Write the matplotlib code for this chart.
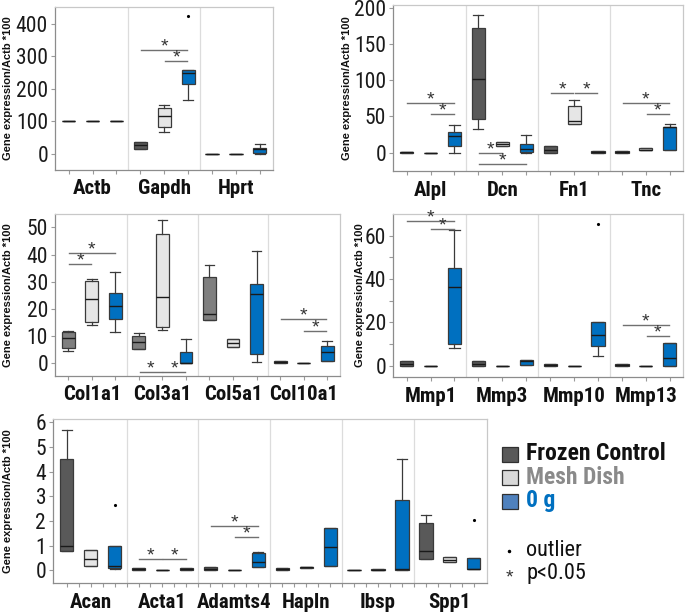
import matplotlib
matplotlib.use("Agg")
import numpy as np
import matplotlib.pyplot as plt
from matplotlib.patches import Rectangle
from matplotlib.lines import Line2D

plt.rcParams['font.family'] = ['Roboto Condensed', 'Liberation Sans', 'DejaVu Sans']

# ---------------- data (order per gene: Frozen Control, Mesh Dish, 0 g) ----------------
p1_genes = ["Actb", "Gapdh", "Hprt"]
p1_med = [100, 100, 100, 27, 117, 249, 0, 0, 16]
p1_q1 = [100, 100, 100, 16, 81, 213, 0, 0, 1]
p1_q3 = [100, 100, 100, 37, 142, 257, 0, 0, 18]
p1_lo = [100, 100, 100, 16, 66, 165, 0, 0, 0]
p1_hi = [100, 100, 100, 37, 150, 257, 0, 0, 30]
p1_fliers = {5: [422]}
p1_sig = [(3, 5, 320), (4, 5, 285)]

p2_genes = ["Alpl", "Dcn", "Fn1", "Tnc"]
p2_med = [0.5, 0, 23, 102, 11.5, 5, 4, 44, 1, 1, 4, 35]
p2_q1 = [0, 0, 9, 46, 9, 1, 0, 39, 0, 0, 3, 3]
p2_q3 = [1, 0, 28, 172, 14, 12.5, 9, 65, 2.5, 2, 6, 36]
p2_lo = [0, 0, 0, 32, 9, 0, 0, 39, 0, 0, 3, 3]
p2_hi = [1, 0, 38, 190, 14, 24, 9, 73, 2.5, 2, 6, 39]
p2_fliers = {}
p2_sig = [(0, 2, 68), (1, 2, 53), (3, 4, 0), (3, 5, -16), (6, 7, 82), (7, 8, 82),
          (9, 11, 68), (10, 11, 53)]

p3_genes = ["Col1a1", "Col3a1", "Col5a1", "Col10a1"]
p3_med = [9.4, 23.5, 21.1, 7.7, 24.3, 0.3, 18, 7.6, 25.6, 0.5, 0, 4.3]
p3_q1 = [5.8, 15.1, 16.2, 5.1, 13.2, 0, 15.9, 6.1, 3.3, 0, 0, 0.9]
p3_q3 = [11.4, 30.4, 25.7, 10, 47.5, 4.3, 31.9, 9, 29, 1, 0, 6.4]
p3_lo = [4.7, 14, 11.5, 5.1, 12.3, 0, 15.9, 6.1, 0.6, 0, 0, 0.9]
p3_hi = [12, 31.1, 33.6, 11, 52.7, 8.8, 36, 9, 41.4, 1, 0, 8.2]
p3_fliers = {}
p3_sig = [(0, 2, 40.7), (0, 1, 36.4), (3, 4, -3.1), (4, 5, -3.1), (9, 11, 16.2), (10, 11, 12)]

p4_genes = ["Mmp1", "Mmp3", "Mmp10", "Mmp13"]
p4_med = [1, 0, 36.5, 1, 0, 2, 0.5, 0, 14.2, 0.5, 0, 3.4]
p4_q1 = [0, 0, 9.8, 0, 0, 0.3, 0, 0, 9.2, 0, 0, 0]
p4_q3 = [2, 0, 44.9, 2, 0, 2.8, 1, 0, 20.3, 1, 0, 10.6]
p4_lo = [0, 0, 8.3, 0, 0, 0.3, 0, 0, 4.6, 0, 0, 0]
p4_hi = [2, 0, 62.6, 2, 0, 2.8, 1, 0, 20.3, 1, 0, 10.6]
p4_fliers = {8: [65.4]}
p4_sig = [(0, 2, 66.8), (1, 2, 62.9), (9, 11, 18.8), (10, 11, 13.7)]

p5_genes = ["Acan", "Acta1", "Adamts4", "Hapln", "Ibsp", "Spp1"]
p5_med = [0.99, 0.46, 0.18, 0.05, 0, 0.04, 0.06, 0, 0.35, 0.06, 0.12, 0.95, 0, 0.015, 0.03, 0.78, 0.43, 0.05]
p5_q1 = [0.79, 0.18, 0.10, 0.02, 0, 0, 0, 0, 0.14, 0.02, 0.08, 0.16, 0, 0, 0, 0.44, 0.34, 0.03]
p5_q3 = [4.53, 0.81, 0.98, 0.08, 0, 0.07, 0.12, 0, 0.68, 0.10, 0.15, 1.72, 0, 0.03, 2.86, 1.90, 0.52, 0.48]
p5_lo = [0.79, 0.18, 0.04, 0.02, 0, 0, 0, 0, 0.14, 0.02, 0.08, 0.16, 0, 0, 0, 0.44, 0.34, 0.03]
p5_hi = [5.70, 0.81, 0.98, 0.08, 0, 0.07, 0.12, 0, 0.75, 0.10, 0.15, 1.72, 0, 0.03, 4.53, 2.24, 0.52, 0.48]
p5_fliers = {2: [2.63], 17: [2.04]}
p5_sig = [(3, 4, 0.47), (4, 5, 0.47), (6, 8, 1.79), (7, 8, 1.36)]

legend_labels = ["Frozen Control", "Mesh Dish", "0 g"]
ylabel = "Gene expression/Actb *100"

# ---------------- style ----------------
FROZEN = "#595959"
FROZEN_MID = "#7f7f7f"
MESH = "#e6e6e6"
ZERO = "#0070c0"
EDGE = "#3a3a3a"

W, H = 685, 614
fig = plt.figure(figsize=(W / 100, H / 100), dpi=100)


def axes_px(left, top, right, bottom):
    return fig.add_axes([left / W, 1 - bottom / H, (right - left) / W, (bottom - top) / H])


def draw_panel(ax, genes, med, q1, q3, lo, hi, fliers, sigs, yticks, ylim,
               minor=None, frozen_color=FROZEN, half_ticks=False):
    n = len(genes) * 3
    pos = np.arange(n)
    stats = []
    for i in range(n):
        stats.append(dict(med=med[i], q1=q1[i], q3=q3[i], whislo=lo[i], whishi=hi[i],
                          fliers=fliers.get(i, [])))
    bp = ax.bxp(stats, positions=pos, widths=0.55, patch_artist=True, showfliers=True,
                manage_ticks=False, capwidths=0.42,
                boxprops=dict(edgecolor=EDGE, linewidth=0.9),
                medianprops=dict(color="#1a1a1a", linewidth=1.0),
                whiskerprops=dict(color=EDGE, linewidth=0.9),
                capprops=dict(color=EDGE, linewidth=0.9),
                flierprops=dict(marker='.', markersize=2.5, markerfacecolor='black',
                                markeredgecolor='black'))
    cols = [frozen_color, MESH, ZERO]
    for i, b in enumerate(bp['boxes']):
        b.set_facecolor(cols[i % 3])
    for g in range(1, len(genes)):
        ax.axvline(3 * g - 0.5, color="#dcdcdc", lw=0.9, zorder=0)
    for (i, j, y) in sigs:
        x0, x1 = i + 0.03, j - 0.03
        ax.plot([x0, x1], [y, y], color="#707070", lw=1.0, clip_on=False, zorder=3)
        ax.annotate("*", xy=((x0 + x1) / 2, y), xytext=(0, -4), textcoords="offset points",
                    ha="center", va="bottom", fontsize=14, color="#333333",
                    family=["Liberation Sans", "DejaVu Sans"])
    ax.set_xlim(-0.57, n - 1 + 0.55)
    ax.set_ylim(*ylim)
    ax.set_yticks(yticks)
    ax.set_yticklabels([str(t) for t in yticks])
    if minor is not None:
        ax.set_yticks(minor, minor=True)
    if half_ticks:
        ax.set_xticks(np.arange(0, n - 0.99, 0.5))
    else:
        ax.set_xticks(pos)
    ax.tick_params(axis='x', length=3, color="#9a9a9a", labelbottom=False, width=0.8)
    ax.tick_params(axis='y', which='both', length=3, color="#9a9a9a", width=0.8,
                   labelsize=15.5, pad=2, labelcolor="#1a1a1a")
    for s in ['left', 'bottom']:
        ax.spines[s].set_color("#8c8c8c")
        ax.spines[s].set_linewidth(0.9)
    for s in ['top', 'right']:
        ax.spines[s].set_color("#c8c8c8")
        ax.spines[s].set_linewidth(0.9)
    for g, name in enumerate(genes):
        ax.annotate(name, xy=(3 * g + 1, 0), xycoords=('data', 'axes fraction'),
                    xytext=(0, -19 * 0.72), textcoords='offset points',
                    ha='center', va='center', fontsize=15, fontweight='bold', color="#111111")


def ylab(xpx, top, bottom):
    fig.text(xpx / W, 1 - (top + bottom) / 2 / H, ylabel, rotation=90, ha='center', va='center',
             fontsize=8, fontweight='bold', color="#111111",
             family=["Liberation Sans", "DejaVu Sans"])


ax1 = axes_px(55, 7, 273, 170)
draw_panel(ax1, p1_genes, p1_med, p1_q1, p1_q3, p1_lo, p1_hi, p1_fliers, p1_sig,
           [0, 100, 200, 300, 400], (-50, 451))
ylab(8, 7, 170)

ax2 = axes_px(393, 5, 683, 171)
draw_panel(ax2, p2_genes, p2_med, p2_q1, p2_q3, p2_lo, p2_hi, p2_fliers, p2_sig,
           [0, 50, 100, 150, 200], (-25.5, 204))
ylab(347, 5, 171)

ax3 = axes_px(55, 214, 340, 376)
draw_panel(ax3, p3_genes, p3_med, p3_q1, p3_q3, p3_lo, p3_hi, p3_fliers, p3_sig,
           [0, 10, 20, 30, 40, 50], (-4.65, 54.9), frozen_color=FROZEN_MID)
ylab(8, 214, 376)

ax4 = axes_px(393, 214, 683, 377)
draw_panel(ax4, p4_genes, p4_med, p4_q1, p4_q3, p4_lo, p4_hi, p4_fliers, p4_sig,
           [0, 20, 40, 60], (-5.2, 70), minor=[10, 30, 50])
ylab(360, 214, 377)

ax5 = axes_px(53, 419, 487, 583)
draw_panel(ax5, p5_genes, p5_med, p5_q1, p5_q3, p5_lo, p5_hi, p5_fliers, p5_sig,
           [0, 1, 2, 3, 4, 5, 6], (-0.52, 6.14), half_ticks=True)
ylab(8, 419, 583)

# ---------------- legend ----------------
leg_face = ["#595959", "#d9d9d9", "#4f81bd"]
leg_text = ["#111111", "#8a8a8a", "#0070c0"]
leg_y = [454, 477, 501]
for lab, fc, tc, y in zip(legend_labels, leg_face, leg_text, leg_y):
    fig.patches.append(Rectangle(((502) / W, 1 - (y + 8) / H), 16 / W, 15 / H,
                                 transform=fig.transFigure, facecolor=fc,
                                 edgecolor="#303030", linewidth=0.9))
    fig.text(526 / W, 1 - y / H, lab, ha='left', va='center', fontsize=17,
             fontweight='bold', color=tc)

fig.lines.append(Line2D([509 / W], [1 - 551 / H], transform=fig.transFigure, marker='.',
                        markersize=3, color='black', linestyle='none'))
fig.text(526 / W, 1 - 550 / H, "outlier", ha='left', va='center', fontsize=16, color="#111111")
fig.text(509 / W, 1 - 578 / H, "*", ha='center', va='center', fontsize=14, color="#333333",
         family=["Liberation Sans", "DejaVu Sans"])
fig.text(526 / W, 1 - 573 / H, "p<0.05", ha='left', va='center', fontsize=16, color="#111111")

fig.savefig("out.png", dpi=100)
